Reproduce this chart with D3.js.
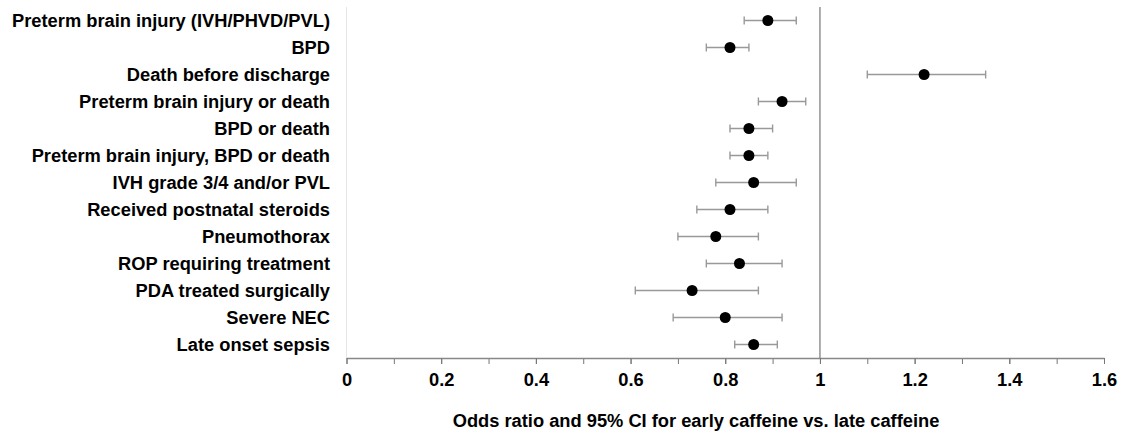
<!DOCTYPE html>
<html>
<head>
<meta charset="utf-8">
<script src="https://cdn.jsdelivr.net/npm/d3@7"></script>
<style>
  body { margin: 0; background: #fff; }
  text { font-family: "Liberation Sans", Arial, sans-serif; font-weight: bold; }
</style>
</head>
<body>
<div id="chart"></div>
<script>
const width = 1125;
const height = 438;

const margin = { top: 7, right: 21, bottom: 80, left: 346.5 };

// outcomes, top to bottom
const outcomes = [
	"Preterm brain injury (IVH/PHVD/PVL)",
	"BPD",
	"Death before discharge",
	"Preterm brain injury or death",
	"BPD or death",
	"Preterm brain injury, BPD or death",
	"IVH grade 3/4 and/or PVL",
	"Received postnatal steroids",
	"Pneumothorax",
	"ROP requiring treatment",
	"PDA treated surgically",
	"Severe NEC",
	"Late onset sepsis"
];
const oddsRatio = [0.89, 0.81, 1.22, 0.92, 0.85, 0.85, 0.86, 0.81, 0.78, 0.83, 0.73, 0.80, 0.86];
const ciLow = [0.84, 0.76, 1.10, 0.87, 0.81, 0.81, 0.78, 0.74, 0.70, 0.76, 0.61, 0.69, 0.82];
const ciHigh = [0.95, 0.85, 1.35, 0.97, 0.90, 0.89, 0.95, 0.89, 0.87, 0.92, 0.87, 0.92, 0.91];
const tickValues = [0, 0.2, 0.4, 0.6, 0.8, 1, 1.2, 1.4, 1.6];
const xTitle = "Odds ratio and 95% CI for early caffeine vs. late caffeine";

const fontSize = "18.3px";

const svg = d3.select("#chart")
	.append("svg")
	.attr("width", width)
	.attr("height", height);

const x = d3.scaleLinear()
	.domain([0, 1.6])
	.range([margin.left, width - margin.right]);

const y = d3.scaleBand()
	.domain(outcomes)
	.range([margin.top, height - margin.bottom]);

const axisY = height - margin.bottom;

// faint left border
svg.append("line")
	.attr("x1", x(0)).attr("x2", x(0))
	.attr("y1", margin.top).attr("y2", axisY)
	.style("stroke", "#e6e6e6")
	.style("stroke-width", 1);

// reference line at OR = 1
svg.append("line")
	.attr("x1", x(1)).attr("x2", x(1))
	.attr("y1", margin.top).attr("y2", axisY)
	.style("stroke", "#999")
	.style("stroke-width", 1.6);

// minor ticks every 0.1
const minor = d3.range(0, 17).map(i => i / 10);
svg.append("g")
	.attr("transform", `translate(0,${axisY})`)
	.call(d3.axisBottom(x).tickValues(minor).tickSize(6).tickFormat(""))
	.call(g => g.select(".domain").remove())
	.selectAll("line")
	.style("stroke", "#777");

const xAxis = svg.append("g")
	.attr("transform", `translate(0,${axisY})`)
	.call(d3.axisBottom(x).tickValues(tickValues).tickSize(6).tickSizeOuter(0).tickPadding(9)
		.tickFormat(d => d3.format("")(+d.toFixed(1))));

xAxis.select(".domain").style("stroke", "#888").style("stroke-width", 1.6);
xAxis.selectAll("line").style("stroke", "#777");
xAxis.selectAll("text")
	.style("font-size", fontSize)
	.style("font-family", "Liberation Sans, Arial, sans-serif")
	.style("font-weight", "bold")
	.style("fill", "#000");

// category labels
svg.selectAll(".lab")
	.data(outcomes)
	.enter()
	.append("text")
	.attr("class", "lab")
	.attr("x", 330)
	.attr("y", d => y(d) + y.bandwidth() / 2)
	.attr("dy", "0.35em")
	.style("text-anchor", "end")
	.style("font-size", fontSize)
	.text(d => d);

const rows = outcomes.map((d, i) => ({ name: d, or: oddsRatio[i], lo: ciLow[i], hi: ciHigh[i] }));
const cy = d => y(d.name) + y.bandwidth() / 2;

const g = svg.selectAll(".row")
	.data(rows)
	.enter()
	.append("g")
	.attr("class", "row");

g.append("line")
	.attr("x1", d => x(d.lo)).attr("x2", d => x(d.hi))
	.attr("y1", cy).attr("y2", cy)
	.style("stroke", "#999")
	.style("stroke-width", 1.4);

g.append("line")
	.attr("x1", d => x(d.lo)).attr("x2", d => x(d.lo))
	.attr("y1", d => cy(d) - 4).attr("y2", d => cy(d) + 4)
	.style("stroke", "#999")
	.style("stroke-width", 1.4);

g.append("line")
	.attr("x1", d => x(d.hi)).attr("x2", d => x(d.hi))
	.attr("y1", d => cy(d) - 4).attr("y2", d => cy(d) + 4)
	.style("stroke", "#999")
	.style("stroke-width", 1.4);

g.append("circle")
	.attr("cx", d => x(d.or))
	.attr("cy", cy)
	.attr("r", 5.5)
	.attr("fill", "#000");

svg.append("text")
	.attr("x", 696)
	.attr("y", 421)
	.attr("dy", "0.35em")
	.style("text-anchor", "middle")
	.style("font-size", fontSize)
	.text(xTitle);
</script>
</body>
</html>
